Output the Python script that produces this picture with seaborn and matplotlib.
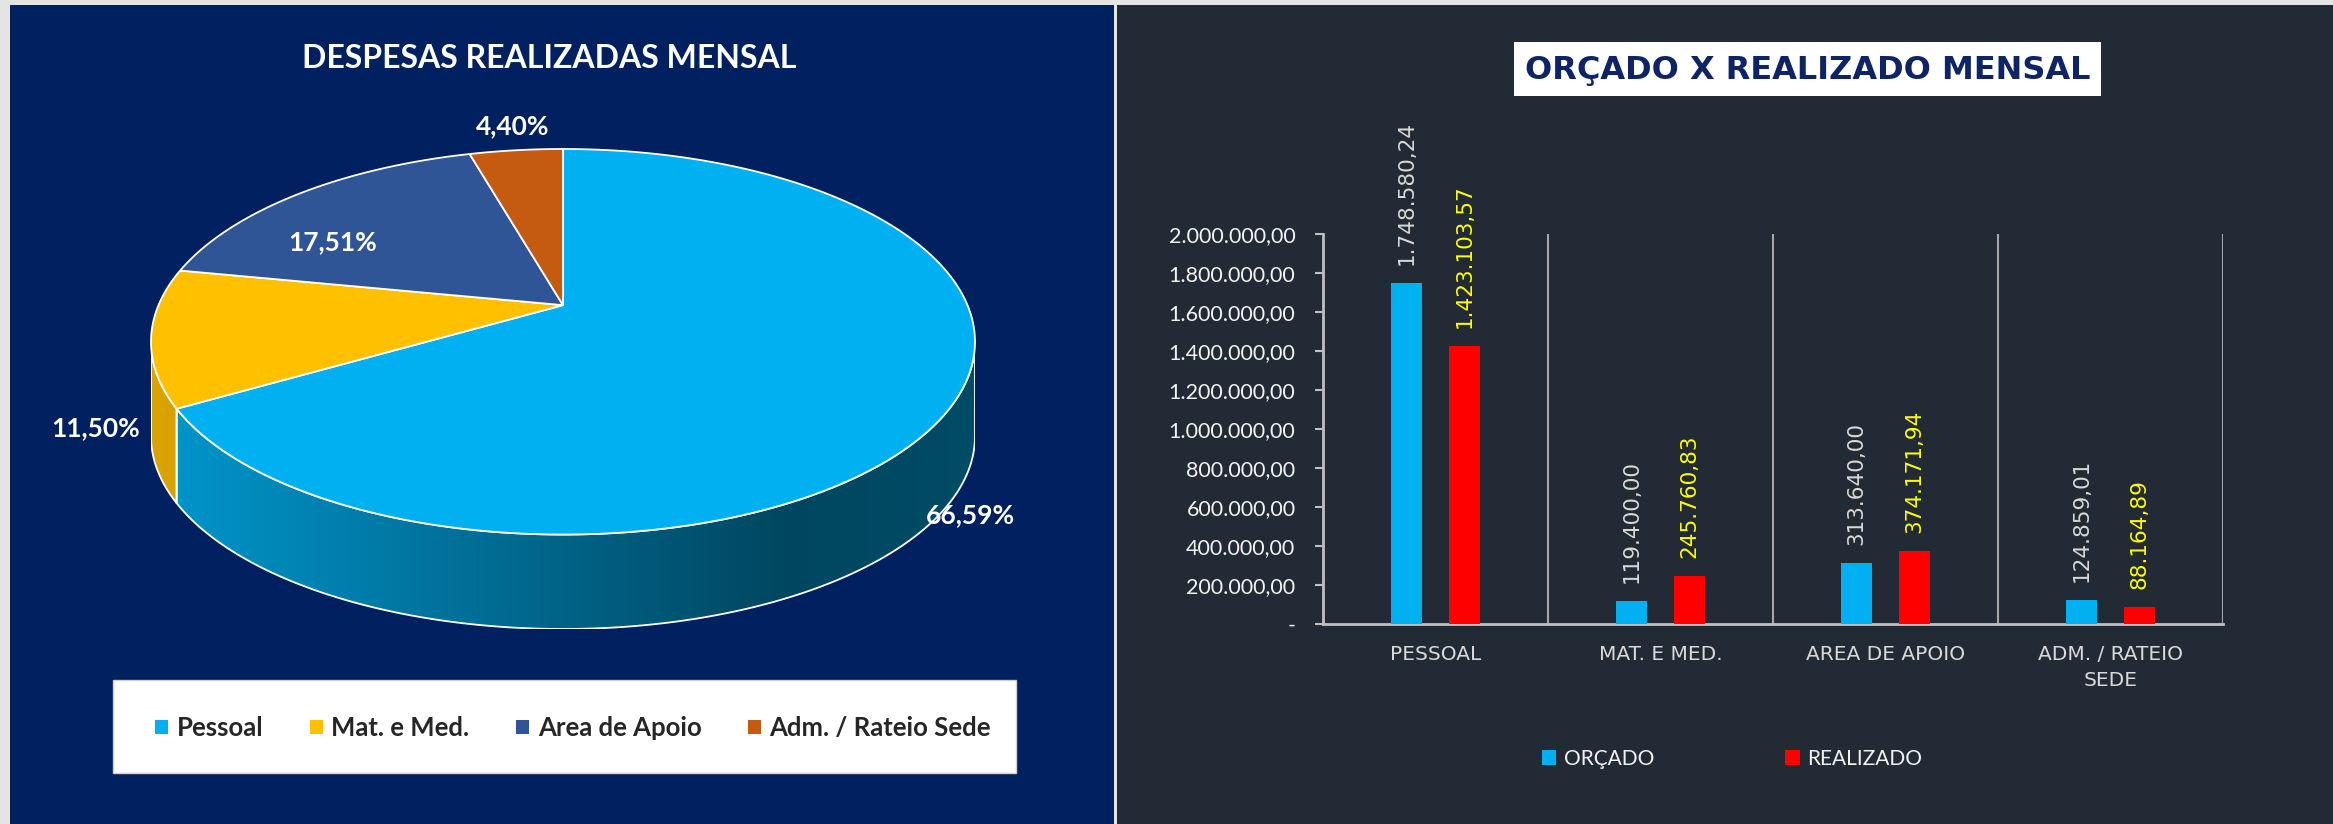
import numpy as np
import pandas as pd
import matplotlib
matplotlib.use("Agg")
import matplotlib.pyplot as plt
import seaborn as sns
from matplotlib import font_manager
from matplotlib.patches import Rectangle
from matplotlib.colors import to_rgb
from matplotlib.transforms import Transform
from matplotlib.path import Path

# ---------------- data ----------------
pie_categories = ["Pessoal", "Mat. e Med.", "Area de Apoio", "Adm. / Rateio Sede"]
pie_shares = [66.59, 11.50, 17.51, 4.40]
pie_colors = ["#00B0F0", "#FFC000", "#2F5597", "#C55A11"]

bar_categories = ["PESSOAL", "MAT. E MED.", "AREA DE APOIO", "ADM. / RATEIO\nSEDE"]
orcado = [1748580.24, 119400.00, 313640.00, 124859.01]
realizado = [1423103.57, 245760.83, 374171.94, 88164.89]
series_names = ["ORÇADO", "REALIZADO"]
bar_colors = ["#00B0F0", "#FF0000"]
label_colors = ["#D9D9D9", "#FFFF00"]
y_ticks = [0, 200000, 400000, 600000, 800000, 1000000, 1200000, 1400000,
           1600000, 1800000, 2000000]

pie_title = "DESPESAS REALIZADAS MENSAL"
bar_title = "ORÇADO X REALIZADO MENSAL"

# ---------------- style ----------------
sns.set_theme(style="white")
names = {f.name for f in font_manager.fontManager.ttflist}
narrow = "Liberation Sans Narrow" if "Liberation Sans Narrow" in names else "Lato"
plt.rcParams["font.family"] = ["DejaVu Sans"]


def br(v):
    s = f"{v:,.2f}"
    return s.replace(",", "X").replace(".", ",").replace("X", ".")


class Perspective(Transform):
    """Projective map keeping the unit circle, moving its centre up by c."""
    input_dims = 2
    output_dims = 2
    is_separable = False
    has_inverse = False

    def __init__(self, c):
        super().__init__()
        self.ch = 1 / np.sqrt(1 - c * c)
        self.sh = c * self.ch

    def transform_non_affine(self, values):
        pts = np.asarray(values, float)
        x, y = pts[:, 0], pts[:, 1]
        d = self.sh * y + self.ch
        return np.column_stack([x / d, (self.ch * y + self.sh) / d])

    def transform_path_non_affine(self, path):
        verts, codes = [], []
        tt = np.linspace(0, 1, 40)
        for seg, code in path.iter_bezier():
            cp = seg.control_points
            if code == Path.MOVETO:
                verts.append(cp[:1])
                codes.append([Path.MOVETO])
                continue
            pts = seg(tt)[1:]
            verts.append(pts)
            codes.append([Path.LINETO] * len(pts))
        v = np.concatenate(verts)
        c = np.concatenate(codes)
        return Path(self.transform_non_affine(v), c)


W, H = 2333, 824
fig = plt.figure(figsize=(W / 100, H / 100), dpi=100, facecolor="#E4E4E4")


def fxp(px):
    return px / W


def fyp(py):
    return 1 - py / H


def rect_px(x0, y0, x1, y1):
    return [x0 / W, 1 - y1 / H, (x1 - x0) / W, (y1 - y0) / H]


# panel backgrounds
fig.add_artist(Rectangle((fxp(10), 0), fxp(1114) - fxp(10), fyp(5),
                         transform=fig.transFigure, facecolor="#002060",
                         edgecolor="none", zorder=0))
fig.add_artist(Rectangle((fxp(1117), 0), 1 - fxp(1117), fyp(5),
                         transform=fig.transFigure, facecolor="#222A35",
                         edgecolor="none", zorder=0))

# ---------------- left: 3D-like pie ----------------
fig.text(fxp(549), fyp(58), pie_title, ha="center", va="center", color="white",
         fontsize=23, fontweight="bold", family=[narrow, "DejaVu Sans"])

depth = 0.49
tilt = 0.19
persp = Perspective(tilt)
ax_pie = fig.add_axes(rect_px(151, 149, 975, 629))
ax_pie.set_facecolor("none")

fractions = np.array(pie_shares) / np.sum(pie_shares)
cum_before = np.concatenate([[0], np.cumsum(fractions)[:-1]])
starts = 90 - 360 * cum_before
ends = starts - 360 * fractions

front_lo = -180 + np.degrees(np.arcsin(tilt))
front_hi = -np.degrees(np.arcsin(tilt))
xg = np.linspace(-1, 1, 600)
shade = np.interp(xg, [-1, 0.55, 1], [0.86, 0.40, 0.43])
for a_end, a_start, col in zip(ends, starts, pie_colors):
    for shift in (0, 360):
        lo = max(a_end + shift, front_lo)
        hi = min(a_start + shift, front_hi)
        if lo >= hi:
            continue
        t = np.radians(np.linspace(lo, hi, 200))
        top = persp.transform_non_affine(np.column_stack([np.cos(t), np.sin(t)]))
        xs, ys = top[:, 0], top[:, 1]
        poly = ax_pie.fill(np.r_[xs, xs[::-1]], np.r_[ys, (ys - depth)[::-1]],
                           facecolor="none", edgecolor="white", lw=1.3, zorder=3)[0]
        img = np.array(to_rgb(col))[None, None, :] * shade[None, :, None]
        im = ax_pie.imshow(img, extent=(-1, 1, -1 - depth, 1), aspect="auto",
                           interpolation="bilinear", zorder=2)
        im.set_clip_path(poly)

wedges, _ = ax_pie.pie(pie_shares, colors=pie_colors, startangle=90,
                       counterclock=False, radius=1,
                       wedgeprops=dict(edgecolor="white", linewidth=1.3, zorder=4))
for w in wedges:
    w.set_transform(persp + ax_pie.transData)
ax_pie.set_aspect("auto")
ax_pie.set_xlim(-1, 1)
ax_pie.set_ylim(-1 - depth, 1)
ax_pie.set_axis_off()

label_factors = [(1.14, 1.81), (1.15, 2.7), (0.76, 0.76), (0.88, 1.13)]
for a_end, a_start, share, (kx, ky) in zip(ends, starts, pie_shares, label_factors):
    mid = np.radians((a_end + a_start) / 2)
    ax_pie.text(kx * np.cos(mid), ky * np.sin(mid), f"{share:.2f}".replace(".", ",") + "%",
                ha="center", va="center", color="white", fontsize=19,
                fontweight="bold", family=["Lato", "DejaVu Sans"], zorder=6)

# legend box
fig.add_artist(Rectangle((fxp(113), fyp(773)), fxp(1016) - fxp(113), fyp(680) - fyp(773),
                         transform=fig.transFigure, facecolor="white",
                         edgecolor="#D0D0D0", lw=1, zorder=1))
leg1 = fig.legend(wedges, pie_categories, loc="center", bbox_to_anchor=(fxp(573), fyp(728)),
                  ncol=4, frameon=False,
                  prop=dict(family=["Lato", "DejaVu Sans"], weight="bold", size=18.5),
                  handlelength=0.5, handleheight=0.5, handletextpad=0.35,
                  columnspacing=1.8, labelcolor="#262626")
for h in leg1.legend_handles:
    h.set_edgecolor("none")

# ---------------- right: bar chart ----------------
fig.add_artist(Rectangle((fxp(1514), fyp(96)), fxp(2101) - fxp(1514), fyp(42) - fyp(96),
                         transform=fig.transFigure, facecolor="white",
                         edgecolor="none", zorder=1))
fig.text(fxp(1808), fyp(70), bar_title, ha="center", va="center", color="#0E2466",
         fontsize=23, fontweight="bold", family="DejaVu Sans", zorder=2)

ax = fig.add_axes(rect_px(1323, 234, 2223, 624))
ax.set_facecolor("none")
df = pd.DataFrame({
    "categoria": bar_categories * 2,
    "valor": orcado + realizado,
    "serie": [series_names[0]] * len(orcado) + [series_names[1]] * len(realizado),
})
sns.barplot(data=df, x="categoria", y="valor", hue="serie", palette=bar_colors,
            width=0.516, gap=0.48, saturation=1, errorbar=None, ax=ax, zorder=3,
            linewidth=0, edgecolor="none")

for cont, lc in zip(ax.containers, label_colors):
    ax.bar_label(cont, labels=[br(v) for v in cont.datavalues], rotation=90,
                 padding=13, color=lc, fontsize=15.5, family="DejaVu Sans")

ax.set_ylim(0, 2000000)
ax.set_xlim(-0.5, 3.5)
ax.set_yticks(y_ticks)
ax.set_yticklabels(["-" if v == 0 else br(v) for v in y_ticks],
                   family=[narrow, "DejaVu Sans"], fontsize=15.5, color="#F2F2F2")
ax.set_xticks(np.arange(-0.5, len(bar_categories) + 0.5, 1.0))
ax.set_xticklabels([])
ax.set_xticks(np.arange(len(bar_categories)), bar_categories, minor=True)
for t in ax.get_xticklabels(minor=True):
    t.set_linespacing(1.45)
    t.set_fontsize(14.5)
    t.set_color("#D9D9D9")
    t.set_family("DejaVu Sans")
ax.tick_params(axis="x", which="minor", length=0, pad=15)
ax.tick_params(axis="x", which="major", length=5.8, width=1.5, color="#BFBFBF",
               direction="out")
ax.tick_params(axis="y", length=5.8, width=1.5, color="#BFBFBF", pad=14,
               direction="out", left=True)
ax.grid(True, axis="x", which="major", color="#A6A6A6", lw=1.5)
ax.grid(False, axis="y")
ax.set_axisbelow(True)
for side in ("top", "right"):
    ax.spines[side].set_visible(False)
for side in ("left", "bottom"):
    ax.spines[side].set_color("#BFBFBF")
    ax.spines[side].set_linewidth(2)
ax.set_xlabel("")
ax.set_ylabel("")

handles, labels = ax.get_legend_handles_labels()
if ax.get_legend() is not None:
    ax.get_legend().remove()
leg2 = fig.legend(handles, labels, loc="center", bbox_to_anchor=(fxp(1732), fyp(759)),
                  ncol=2, frameon=False, prop=dict(family=[narrow, "DejaVu Sans"], size=15),
                  labelcolor="#F2F2F2", handlelength=0.7, handleheight=0.7,
                  handletextpad=0.35, columnspacing=6.3)
for h in leg2.legend_handles:
    h.set_edgecolor("none")
    h.set_linewidth(0)

fig.savefig("out.png", dpi=100, facecolor=fig.get_facecolor())
